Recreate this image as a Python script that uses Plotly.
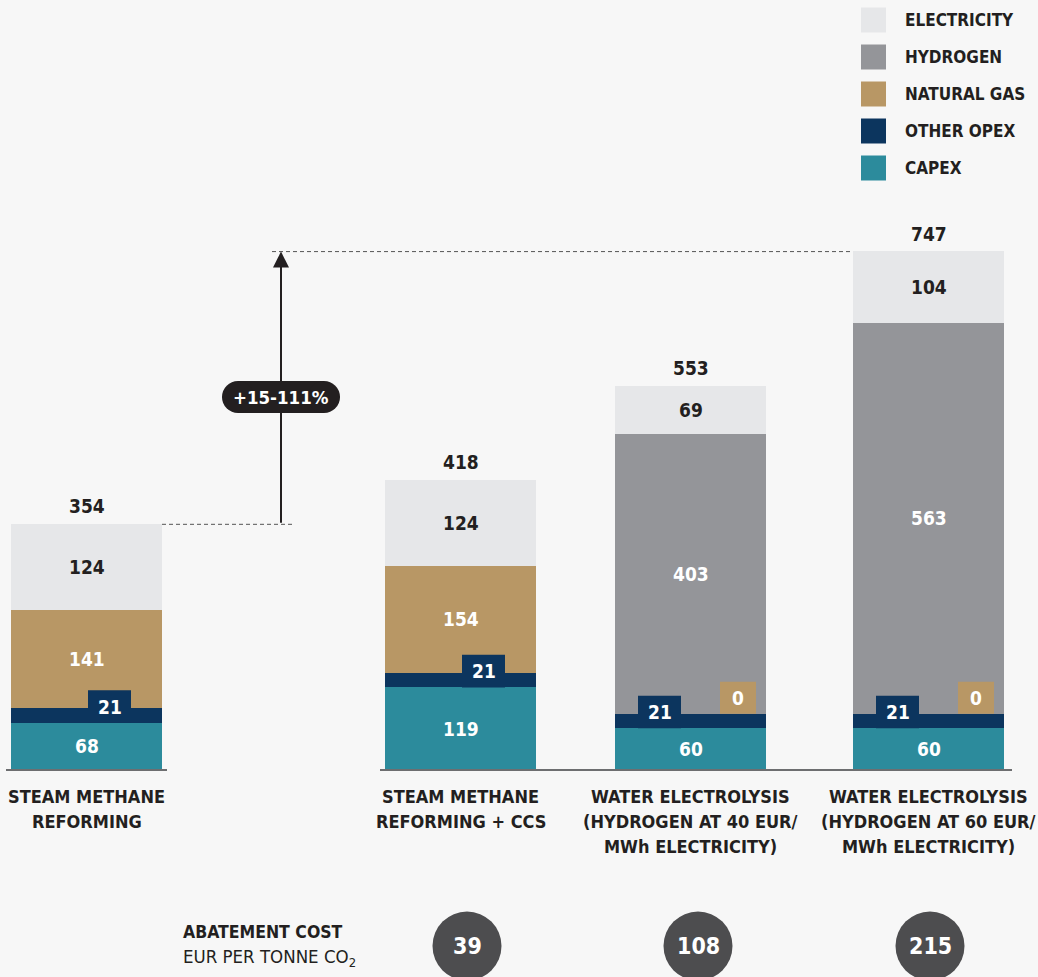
import plotly.graph_objects as go

# ---------------- data ----------------
categories = [
    "STEAM METHANE<br>REFORMING",
    "STEAM METHANE<br>REFORMING + CCS",
    "WATER ELECTROLYSIS<br>(HYDROGEN AT 40 EUR/<br>MWh ELECTRICITY)",
    "WATER ELECTROLYSIS<br>(HYDROGEN AT 60 EUR/<br>MWh ELECTRICITY)",
]
capex = [68, 119, 60, 60]
other_opex = [21, 21, 21, 21]
natural_gas = [141, 154, 0, 0]
hydrogen = [0, 0, 403, 563]
electricity = [124, 124, 69, 104]
totals = [354, 418, 553, 747]
abatement_cost = [None, 39, 108, 215]
increase_label = "+15-111%"

series_names = ["CAPEX", "OTHER OPEX", "NATURAL GAS", "HYDROGEN", "ELECTRICITY"]

# ---------------- layout / style ----------------
W, H = 1038, 977
BASE_PX = 770          # pixel row of zero
SCALE = 0.694          # pixels per unit
bar_x = [86.5, 460.5, 690.5, 928.5]   # bar centres (pixel units on x axis)
bar_w = 151
opex_box_off = [23, 23, -31, -31]
gas_box_off = 47.5
circle_x = [None, 467, 698, 930]
CAT_Y0, CAT_DY = 796, 25

BG = "#f7f7f7"
COL = {
    "CAPEX": "#2c8b9c",
    "OTHER OPEX": "#0c355e",
    "NATURAL GAS": "#b89765",
    "HYDROGEN": "#949599",
    "ELECTRICITY": "#e6e7e9",
}
DARK = "#231f20"
FONT = "DejaVu Sans Condensed, DejaVu Sans, sans-serif"
FS_NUM = 19
FS_CAT = 18
FS_LEG = 17

y_min = -(H - BASE_PX) / SCALE
y_max = BASE_PX / SCALE


def u(px):
    """pixel distance -> data units"""
    return px / SCALE


def fx(px):
    return px / W


def fy(py):
    return 1 - py / H


def font(size=FS_NUM, color="white", bold=True):
    return dict(family=FONT, size=size, color=color, weight="bold" if bold else "normal")


fig = go.Figure()
values = {
    "CAPEX": capex,
    "OTHER OPEX": other_opex,
    "NATURAL GAS": natural_gas,
    "HYDROGEN": hydrogen,
    "ELECTRICITY": electricity,
}
for name in series_names:
    fig.add_trace(go.Bar(
        x=bar_x, y=values[name], width=bar_w, name=name,
        marker=dict(color=COL[name], line=dict(width=0)),
        showlegend=False, hoverinfo="skip",
    ))

shapes = []
ann = []


def label(x, y, text, color="white", size=FS_NUM, **kw):
    d = dict(x=x, y=y, xref="x", yref="y", text=text, showarrow=False,
             xanchor="center", yanchor="middle", font=font(size, color))
    d.update(kw)
    ann.append(d)


def plabel(px, py, text, xanchor="center", **fkw):
    ann.append(dict(x=fx(px), y=fy(py), xref="paper", yref="paper", text=text, showarrow=False,
                    xanchor=xanchor, yanchor="middle", font=font(**fkw)))


for i, c in enumerate(bar_x):
    y0 = 0
    # capex
    label(c, y0 + capex[i] / 2, str(capex[i]))
    y0 += capex[i]
    # other opex box
    ox = c + opex_box_off[i]
    top = y0 + other_opex[i] + u(18)
    shapes.append(dict(type="rect", xref="x", yref="y", x0=ox - 21.5, x1=ox + 21.5,
                       y0=y0, y1=top, fillcolor=COL["OTHER OPEX"], line=dict(width=0), layer="above"))
    label(ox, (y0 + top) / 2, str(other_opex[i]))
    y0 += other_opex[i]
    # natural gas
    if natural_gas[i] > 0:
        label(c, y0 + natural_gas[i] / 2, str(natural_gas[i]))
    else:
        gx = c + gas_box_off
        shapes.append(dict(type="rect", xref="x", yref="y", x0=gx - 18, x1=gx + 18,
                           y0=y0, y1=y0 + u(32), fillcolor=COL["NATURAL GAS"], line=dict(width=0), layer="above"))
        label(gx, y0 + u(16), str(natural_gas[i]))
    y0 += natural_gas[i]
    if hydrogen[i] > 0:
        label(c, y0 + hydrogen[i] / 2, str(hydrogen[i]))
    y0 += hydrogen[i]
    label(c, y0 + electricity[i] / 2, str(electricity[i]), color=DARK)
    # total
    label(c, totals[i], str(totals[i]), color=DARK, yshift=18)
    # category label (one annotation per line for exact line spacing)
    for k, line in enumerate(categories[i].split("<br>")):
        plabel(c, CAT_Y0 + k * CAT_DY, line, size=FS_CAT, color=DARK)
    # abatement circles
    if abatement_cost[i] is not None:
        cx, cy, r = circle_x[i], 946, 34.5
        shapes.append(dict(type="circle", xref="paper", yref="paper",
                           x0=fx(cx - r), x1=fx(cx + r), y0=fy(cy + r), y1=fy(cy - r),
                           fillcolor="#4d4d4f", line=dict(width=0)))
        plabel(cx, cy, str(abatement_cost[i]), size=23, color="white")

# baselines
shapes.append(dict(type="line", xref="x", yref="y", x0=6, x1=167, y0=0, y1=0,
                   line=dict(color="#6d6e70", width=2)))
shapes.append(dict(type="line", xref="x", yref="y", x0=380, x1=1012, y0=0, y1=0,
                   line=dict(color="#6d6e70", width=2)))

# dashed reference lines
shapes.append(dict(type="line", xref="x", yref="y", x0=162, x1=292, y0=totals[0], y1=totals[0],
                   line=dict(color="#555555", width=1, dash="4px,3px")))
shapes.append(dict(type="line", xref="x", yref="y", x0=272, x1=853, y0=totals[-1], y1=totals[-1],
                   line=dict(color="#555555", width=1, dash="4px,3px")))

# arrow
ARROW_X = 281
ann.append(dict(x=ARROW_X, y=totals[-1], ax=ARROW_X, ay=totals[0], xref="x", yref="y",
                axref="x", ayref="y", text="", showarrow=True, arrowhead=2, arrowsize=1.6,
                arrowwidth=2, arrowcolor=DARK, standoff=0, startstandoff=0))

# pill label
pcx, pcy, pw, ph = ARROW_X, 397, 118, 32
r = ph / 2
shapes.append(dict(type="rect", xref="paper", yref="paper", x0=fx(pcx - pw / 2 + r), x1=fx(pcx + pw / 2 - r),
                   y0=fy(pcy + r), y1=fy(pcy - r), fillcolor=DARK, line=dict(width=0), layer="above"))
for ex in (pcx - pw / 2 + r, pcx + pw / 2 - r):
    shapes.append(dict(type="circle", xref="paper", yref="paper", x0=fx(ex - r), x1=fx(ex + r),
                       y0=fy(pcy + r), y1=fy(pcy - r), fillcolor=DARK, line=dict(width=0), layer="above"))
plabel(pcx, pcy, increase_label, size=18.5, color="white")

# legend (custom)
legend_order = ["ELECTRICITY", "HYDROGEN", "NATURAL GAS", "OTHER OPEX", "CAPEX"]
for k, name in enumerate(legend_order):
    cy = 20 + k * 37
    shapes.append(dict(type="rect", xref="paper", yref="paper", x0=fx(861), x1=fx(886),
                       y0=fy(cy + 12.5), y1=fy(cy - 12.5), fillcolor=COL[name], line=dict(width=0)))
    plabel(903, cy, name, xanchor="left", size=FS_LEG, color=DARK)

# abatement label
plabel(181, 932, "ABATEMENT COST", xanchor="left", size=17.5, color=DARK)
plabel(181, 958, "EUR PER TONNE CO<sub>2</sub>", xanchor="left", size=18.5, color=DARK, bold=False)

fig.update_layout(
    width=W, height=H, margin=dict(l=0, r=0, t=0, b=0),
    paper_bgcolor=BG, plot_bgcolor=BG, barmode="stack", bargap=0,
    showlegend=False, shapes=shapes, annotations=ann,
    xaxis=dict(range=[0, W], visible=False, fixedrange=True),
    yaxis=dict(range=[y_min, y_max], visible=False, fixedrange=True),
)

post = (
    "document.body.style.margin='0';document.body.style.background='#f7f7f7';"
    "var s=document.createElement('style');"
    "s.textContent='text,tspan{font-stretch:condensed !important;}';"
    "document.head.appendChild(s);"
    "var gd=document.getElementById('{plot_id}');"
    "Plotly.react(gd, gd.data, gd.layout);"
)
fig.write_html("out.html", config={"displayModeBar": False}, post_script=post)
